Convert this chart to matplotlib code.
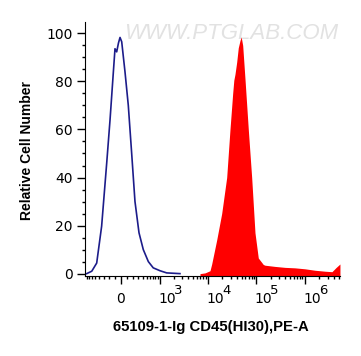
import numpy as np
import matplotlib
matplotlib.use('Agg')
import matplotlib.pyplot as plt

plt.rcParams['font.family'] = ['Liberation Sans', 'DejaVu Sans']

# isotype control (blue outline)
ctrl_x = [-796, -611, -464, -343, -238, -177, -122, -94, -67, -39, -15, 11,
          62, 115, 172, 232, 313, 412, 551, 716, 1011, 1404, 2662]
ctrl_y = [0, 1, 4.4, 19.7, 46, 64, 83.4, 93.6, 92.3, 96, 98.3, 96.5,
          84, 70, 50, 30, 17, 10, 5, 2.4, 1.2, 0.3, 0]

# CD45 stained sample (red fill)
cd45_x = [6920, 8775, 9510, 11120, 12060, 15290, 19380, 24580, 28750, 32670,
          34500, 36450, 39520, 42640, 46240, 49000, 52580, 58650, 68630,
          80580, 94260, 110300, 139800, 151500, 243400, 391400, 629400,
          1.012e6, 1.627e6, 2.616e6, 3.645e6, 4.409e6, 5.33e6]
cd45_y = [0, 0.3, 0.6, 1.2, 4, 14, 25, 40, 60, 75,
          80.5, 83, 88, 94, 97, 98.5, 95, 81, 60,
          40, 17, 6.5, 3.8, 3.5, 3.0, 2.6, 2.4,
          2.0, 1.4, 1.0, 0.8, 2.5, 4.0]

major_ticks = [1e3, 1e4, 1e5, 1e6]
major_exps = ['3', '4', '5', '6']

fig = plt.figure(figsize=(3.61, 3.56), dpi=100)
ax = fig.add_axes([0.2355, 0.226, 0.7063, 0.712])

ax.set_xscale('asinh', linear_width=325)
ax.fill_between(cd45_x, cd45_y, -1, color='#ff0000', linewidth=0)
ax.plot(ctrl_x, ctrl_y, color='#1c1c8a', lw=1.2)

ax.set_xlim(-868, 5.34e6)
ax.set_ylim(-0.8, 104.7)

minor = [s * k for s in (-1, 1) for k in range(100, 1000, 100)]
minor += [m * 10 ** e for e in (3, 4, 5, 6) for m in range(2, 10)]
minor = [m for m in minor if -868 < m < 5.34e6]
ax.set_xticks([0] + major_ticks)
ax.set_xticklabels([])
ax.set_xticks(minor, minor=True)

ax.set_yticks([0, 20, 40, 60, 80, 100])
ax.set_yticks(np.arange(0, 105, 5), minor=True)
for lab in ax.get_yticklabels():
    lab.set_family('DejaVu Sans')

ax.tick_params(which='major', length=5.6, width=1, labelsize=10, pad=3.5)
ax.tick_params(which='minor', length=2.4, width=1)

# x tick labels: "0" and 10 with full-size raised exponent
tick_font = dict(family='DejaVu Sans', fontsize=10, color='black')
ax.annotate('0', xy=(0, 0), xycoords=('data', 'axes fraction'),
            xytext=(0, -19.6), textcoords='offset points',
            ha='center', va='baseline', **tick_font)
for t, e in zip(major_ticks, major_exps):
    ax.annotate('10', xy=(t, 0), xycoords=('data', 'axes fraction'),
                xytext=(-1.2, -19.6), textcoords='offset points',
                ha='left', va='baseline', **tick_font)
    ax.annotate(e, xy=(t, 0), xycoords=('data', 'axes fraction'),
                xytext=(10.2, -13.5), textcoords='offset points',
                ha='left', va='baseline', family='DejaVu Sans', fontsize=9.5)

for side in ('top', 'right'):
    ax.spines[side].set_visible(False)

fig.text(26.7 / 361, 1 - 150 / 356, 'Relative Cell Number', rotation=90,
         ha='center', va='center', fontsize=10, fontweight='bold')
fig.text(210.5 / 361, 1 - 327 / 356, '65109-1-Ig CD45(HI30),PE-A',
         ha='center', va='center', fontsize=10.7, fontweight='bold')

ax.text(0.575, 0.955, 'WWW.PTGLAB.COM', transform=ax.transAxes, ha='center',
        va='center', fontsize=16, color='#e2e2e2', style='italic', zorder=0)

fig.savefig('out.png', dpi=100)
